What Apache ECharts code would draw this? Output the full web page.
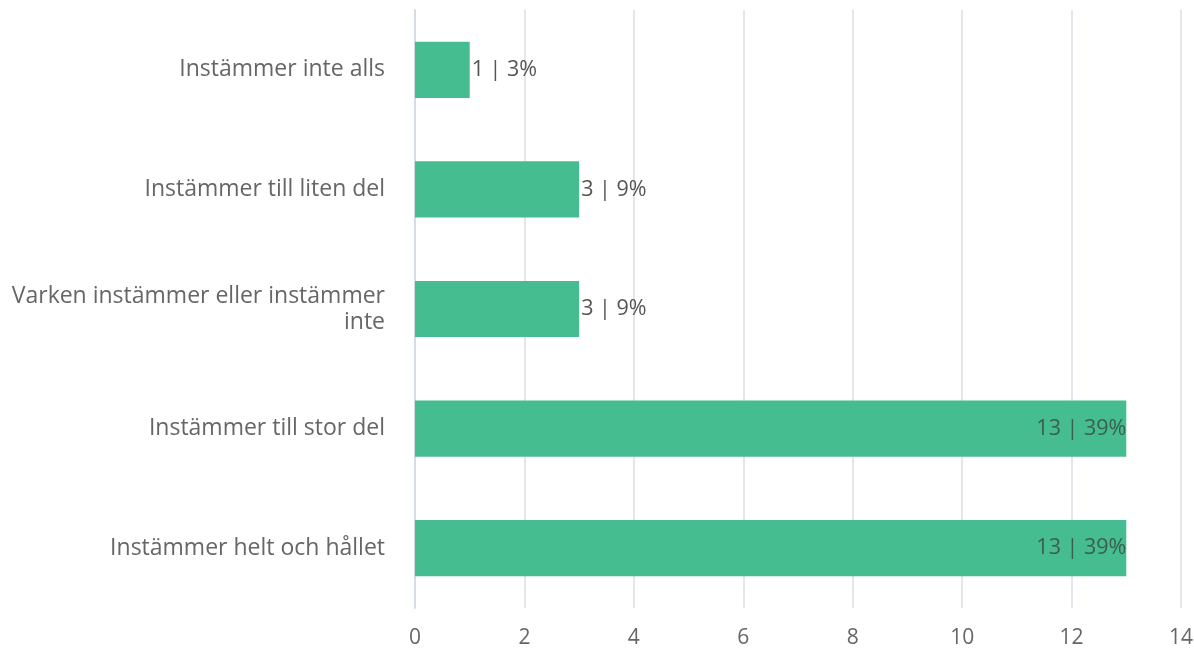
<!DOCTYPE html>
<html>
<head>
<meta charset="utf-8">
<script src="https://cdn.jsdelivr.net/npm/echarts@6/dist/echarts.min.js"></script>
<style>
html,body{margin:0;padding:0;background:#fff;}
#chart{width:1194px;height:652px;}
</style>
</head>
<body>
<div id="chart"></div>
<script>
const categories = ["Instämmer inte alls", "Instämmer till liten del", "Varken instämmer eller instämmer inte", "Instämmer till stor del", "Instämmer helt och hållet"];
const counts = [1, 3, 3, 13, 13];
const percents = [3, 9, 9, 39, 39];
const xTicks = [0, 2, 4, 6, 8, 10, 12, 14];

const FONT = '"Open Sans", "Noto Sans", sans-serif';
function wrap(s, maxChars) {
  const words = s.split(' ');
  const lines = [];
  let cur = '';
  words.forEach(w => {
    const next = cur ? cur + ' ' + w : w;
    if (next.length > maxChars && cur) { lines.push(cur); cur = w; }
    else cur = next;
  });
  if (cur) lines.push(cur);
  return lines.join('\n');
}
const chart = echarts.init(document.getElementById('chart'));
const data = counts.map((v, i) => {
  const inside = v >= 10;
  return {
    value: v,
    label: inside ? {position: 'insideRight', distance: 0, color: '#3a5f50'} : {position: 'right', distance: 2, color: '#555'}
  };
});
chart.setOption({
  animation: false,
  grid: {left: 415, right: 13, top: 10, bottom: 44, containLabel: false, outerBoundsMode: 'none'},
  xAxis: {
    type: 'value', min: xTicks[0], max: xTicks[xTicks.length - 1], interval: 2,
    axisLine: {show: false}, axisTick: {show: false},
    splitLine: {show: true, lineStyle: {color: '#e3e7ec', width: 2}},
    axisLabel: {color: '#666', fontSize: 21, fontFamily: FONT, margin: 20}
  },
  yAxis: {
    type: 'category', data: categories, inverse: true,
    axisLine: {show: true, lineStyle: {color: '#d5dce4', width: 2}},
    axisTick: {show: false},
    axisLabel: {color: '#666', fontSize: 23, fontFamily: FONT, margin: 30, lineHeight: 26, align: 'right', padding: [3, 0, 0, 0],
      formatter: v => wrap(v, 32)}
  },
  series: [{
    type: 'bar', data: data, barWidth: '47%',
    itemStyle: {color: '#46bc91'},
    label: {show: true, fontSize: 21.5, fontFamily: FONT,
      formatter: p => p.value + ' | ' + percents[p.dataIndex] + '%'}
  }]
});
</script>
</body>
</html>
